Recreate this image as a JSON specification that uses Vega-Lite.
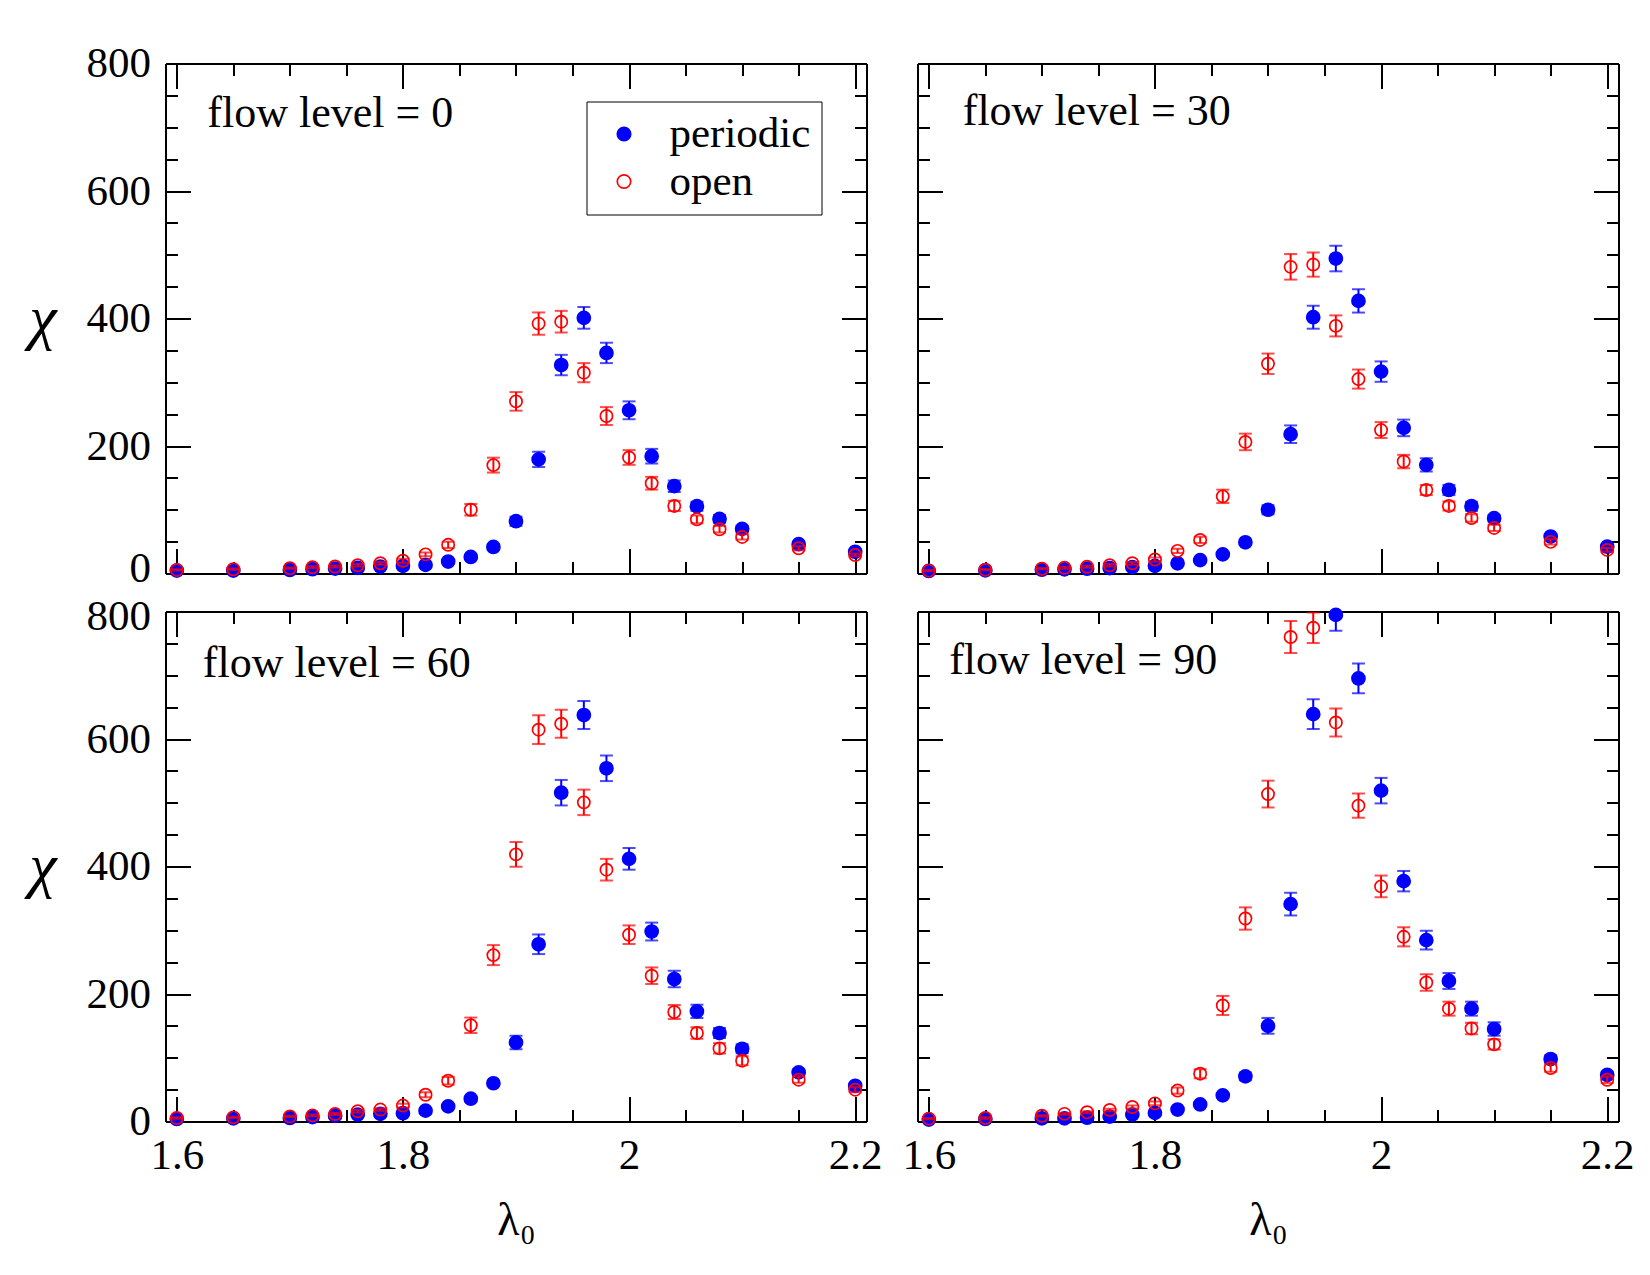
{
  "$schema": "https://vega.github.io/schema/vega-lite/v6.json",
  "background": "white",
  "padding": {"left": 28.5, "top": 42.5, "right": 5, "bottom": 5},
  "datasets": {
    "chi": [
      {"f":0,"s":"periodic","lam":1.6,"chi":4.6,"err":1},{"f":0,"s":"periodic","lam":1.65,"chi":4.6,"err":1},{"f":0,"s":"periodic","lam":1.7,"chi":5.6,"err":1},{"f":0,"s":"periodic","lam":1.72,"chi":6.7,"err":1},{"f":0,"s":"periodic","lam":1.74,"chi":7.7,"err":1},{"f":0,"s":"periodic","lam":1.76,"chi":8.8,"err":1},{"f":0,"s":"periodic","lam":1.78,"chi":10.9,"err":1.5},{"f":0,"s":"periodic","lam":1.8,"chi":12,"err":2},{"f":0,"s":"periodic","lam":1.82,"chi":13.5,"err":2},{"f":0,"s":"periodic","lam":1.84,"chi":18.7,"err":2},{"f":0,"s":"periodic","lam":1.86,"chi":26,"err":3},{"f":0,"s":"periodic","lam":1.88,"chi":41.7,"err":4},{"f":0,"s":"periodic","lam":1.9,"chi":82,"err":7},{"f":0,"s":"periodic","lam":1.92,"chi":179,"err":12},{"f":0,"s":"periodic","lam":1.94,"chi":327,"err":16},{"f":0,"s":"periodic","lam":1.96,"chi":401,"err":17},{"f":0,"s":"periodic","lam":1.98,"chi":346,"err":16},{"f":0,"s":"periodic","lam":2.0,"chi":256,"err":14},{"f":0,"s":"periodic","lam":2.02,"chi":184,"err":11.5},{"f":0,"s":"periodic","lam":2.04,"chi":137,"err":9},{"f":0,"s":"periodic","lam":2.06,"chi":105.5,"err":7},{"f":0,"s":"periodic","lam":2.08,"chi":85.6,"err":6},{"f":0,"s":"periodic","lam":2.1,"chi":70,"err":5},{"f":0,"s":"periodic","lam":2.15,"chi":46,"err":3},{"f":0,"s":"periodic","lam":2.2,"chi":34,"err":3},
      {"f":0,"s":"open","lam":1.6,"chi":5.6,"err":1},{"f":0,"s":"open","lam":1.65,"chi":6.7,"err":1},{"f":0,"s":"open","lam":1.7,"chi":8.3,"err":1},{"f":0,"s":"open","lam":1.72,"chi":9.8,"err":1.5},{"f":0,"s":"open","lam":1.74,"chi":10.9,"err":1.5},{"f":0,"s":"open","lam":1.76,"chi":13,"err":2},{"f":0,"s":"open","lam":1.78,"chi":16,"err":2},{"f":0,"s":"open","lam":1.8,"chi":20,"err":3},{"f":0,"s":"open","lam":1.82,"chi":30,"err":3},{"f":0,"s":"open","lam":1.84,"chi":45,"err":5},{"f":0,"s":"open","lam":1.86,"chi":100,"err":9},{"f":0,"s":"open","lam":1.88,"chi":170,"err":11.7},{"f":0,"s":"open","lam":1.9,"chi":270,"err":14.6},{"f":0,"s":"open","lam":1.92,"chi":392,"err":17.5},{"f":0,"s":"open","lam":1.94,"chi":395,"err":17},{"f":0,"s":"open","lam":1.96,"chi":315,"err":15},{"f":0,"s":"open","lam":1.98,"chi":247,"err":14},{"f":0,"s":"open","lam":2.0,"chi":182,"err":11.5},{"f":0,"s":"open","lam":2.02,"chi":141.6,"err":10},{"f":0,"s":"open","lam":2.04,"chi":106,"err":8},{"f":0,"s":"open","lam":2.06,"chi":85,"err":6},{"f":0,"s":"open","lam":2.08,"chi":69.5,"err":5},{"f":0,"s":"open","lam":2.1,"chi":57.4,"err":4},{"f":0,"s":"open","lam":2.15,"chi":39.6,"err":3},{"f":0,"s":"open","lam":2.2,"chi":29,"err":2},
      {"f":30,"s":"periodic","lam":1.6,"chi":4,"err":1},{"f":30,"s":"periodic","lam":1.65,"chi":5,"err":1},{"f":30,"s":"periodic","lam":1.7,"chi":6,"err":1},{"f":30,"s":"periodic","lam":1.72,"chi":6.5,"err":1},{"f":30,"s":"periodic","lam":1.74,"chi":7.5,"err":1},{"f":30,"s":"periodic","lam":1.76,"chi":8.5,"err":1},{"f":30,"s":"periodic","lam":1.78,"chi":10,"err":1.5},{"f":30,"s":"periodic","lam":1.8,"chi":12,"err":2},{"f":30,"s":"periodic","lam":1.82,"chi":16,"err":2},{"f":30,"s":"periodic","lam":1.84,"chi":21,"err":2},{"f":30,"s":"periodic","lam":1.86,"chi":30,"err":3},{"f":30,"s":"periodic","lam":1.88,"chi":49,"err":4},{"f":30,"s":"periodic","lam":1.9,"chi":100,"err":7},{"f":30,"s":"periodic","lam":1.92,"chi":218.5,"err":13.8},{"f":30,"s":"periodic","lam":1.94,"chi":402,"err":18},{"f":30,"s":"periodic","lam":1.96,"chi":494,"err":20},{"f":30,"s":"periodic","lam":1.98,"chi":427.6,"err":18.3},{"f":30,"s":"periodic","lam":2.0,"chi":316.7,"err":16},{"f":30,"s":"periodic","lam":2.02,"chi":228.4,"err":13},{"f":30,"s":"periodic","lam":2.04,"chi":170.4,"err":10.5},{"f":30,"s":"periodic","lam":2.06,"chi":131,"err":8},{"f":30,"s":"periodic","lam":2.08,"chi":105.5,"err":7},{"f":30,"s":"periodic","lam":2.1,"chi":86.7,"err":5},{"f":30,"s":"periodic","lam":2.15,"chi":58,"err":4},{"f":30,"s":"periodic","lam":2.2,"chi":42,"err":3},
      {"f":30,"s":"open","lam":1.6,"chi":4.5,"err":1},{"f":30,"s":"open","lam":1.65,"chi":6,"err":1},{"f":30,"s":"open","lam":1.7,"chi":7.5,"err":1},{"f":30,"s":"open","lam":1.72,"chi":9,"err":1.5},{"f":30,"s":"open","lam":1.74,"chi":10.5,"err":1.5},{"f":30,"s":"open","lam":1.76,"chi":13,"err":2},{"f":30,"s":"open","lam":1.78,"chi":16,"err":2},{"f":30,"s":"open","lam":1.8,"chi":22,"err":3},{"f":30,"s":"open","lam":1.82,"chi":35.5,"err":3.5},{"f":30,"s":"open","lam":1.84,"chi":52.7,"err":5},{"f":30,"s":"open","lam":1.86,"chi":121,"err":10.5},{"f":30,"s":"open","lam":1.88,"chi":206.4,"err":13},{"f":30,"s":"open","lam":1.9,"chi":329,"err":16},{"f":30,"s":"open","lam":1.92,"chi":481,"err":20},{"f":30,"s":"open","lam":1.94,"chi":484.6,"err":19},{"f":30,"s":"open","lam":1.96,"chi":388.4,"err":16.5},{"f":30,"s":"open","lam":1.98,"chi":305,"err":15},{"f":30,"s":"open","lam":2.0,"chi":225,"err":12.5},{"f":30,"s":"open","lam":2.02,"chi":175.6,"err":10.5},{"f":30,"s":"open","lam":2.04,"chi":131,"err":8},{"f":30,"s":"open","lam":2.06,"chi":106,"err":7},{"f":30,"s":"open","lam":2.08,"chi":87,"err":6},{"f":30,"s":"open","lam":2.1,"chi":71.5,"err":5},{"f":30,"s":"open","lam":2.15,"chi":49.6,"err":4},{"f":30,"s":"open","lam":2.2,"chi":37,"err":3},
      {"f":60,"s":"periodic","lam":1.6,"chi":4,"err":1},{"f":60,"s":"periodic","lam":1.65,"chi":5,"err":1},{"f":60,"s":"periodic","lam":1.7,"chi":5.5,"err":1},{"f":60,"s":"periodic","lam":1.72,"chi":7,"err":1},{"f":60,"s":"periodic","lam":1.74,"chi":9.2,"err":1},{"f":60,"s":"periodic","lam":1.76,"chi":10.8,"err":1},{"f":60,"s":"periodic","lam":1.78,"chi":12,"err":1.5},{"f":60,"s":"periodic","lam":1.8,"chi":13,"err":2},{"f":60,"s":"periodic","lam":1.82,"chi":17,"err":2},{"f":60,"s":"periodic","lam":1.84,"chi":23.7,"err":2.5},{"f":60,"s":"periodic","lam":1.86,"chi":35.8,"err":3},{"f":60,"s":"periodic","lam":1.88,"chi":60,"err":4},{"f":60,"s":"periodic","lam":1.9,"chi":124,"err":10.5},{"f":60,"s":"periodic","lam":1.92,"chi":278,"err":15.4},{"f":60,"s":"periodic","lam":1.94,"chi":515.8,"err":20},{"f":60,"s":"periodic","lam":1.96,"chi":637.6,"err":22},{"f":60,"s":"periodic","lam":1.98,"chi":554,"err":20},{"f":60,"s":"periodic","lam":2.0,"chi":412,"err":17},{"f":60,"s":"periodic","lam":2.02,"chi":298,"err":14},{"f":60,"s":"periodic","lam":2.04,"chi":223.5,"err":12.8},{"f":60,"s":"periodic","lam":2.06,"chi":172.7,"err":10.5},{"f":60,"s":"periodic","lam":2.08,"chi":138.8,"err":8},{"f":60,"s":"periodic","lam":2.1,"chi":114,"err":7},{"f":60,"s":"periodic","lam":2.15,"chi":77,"err":5},{"f":60,"s":"periodic","lam":2.2,"chi":56,"err":4},
      {"f":60,"s":"open","lam":1.6,"chi":5.5,"err":1},{"f":60,"s":"open","lam":1.65,"chi":6.5,"err":1},{"f":60,"s":"open","lam":1.7,"chi":8,"err":1},{"f":60,"s":"open","lam":1.72,"chi":9.6,"err":1.5},{"f":60,"s":"open","lam":1.74,"chi":11.7,"err":1.5},{"f":60,"s":"open","lam":1.76,"chi":16,"err":2},{"f":60,"s":"open","lam":1.78,"chi":18.7,"err":2},{"f":60,"s":"open","lam":1.8,"chi":25,"err":3},{"f":60,"s":"open","lam":1.82,"chi":42,"err":4},{"f":60,"s":"open","lam":1.84,"chi":64,"err":6},{"f":60,"s":"open","lam":1.86,"chi":151,"err":12},{"f":60,"s":"open","lam":1.88,"chi":261,"err":15.7},{"f":60,"s":"open","lam":1.9,"chi":419,"err":19.4},{"f":60,"s":"open","lam":1.92,"chi":614.6,"err":22.5},{"f":60,"s":"open","lam":1.94,"chi":624,"err":22},{"f":60,"s":"open","lam":1.96,"chi":500.6,"err":20},{"f":60,"s":"open","lam":1.98,"chi":395,"err":17},{"f":60,"s":"open","lam":2.0,"chi":293,"err":14.6},{"f":60,"s":"open","lam":2.02,"chi":228.7,"err":13},{"f":60,"s":"open","lam":2.04,"chi":171.7,"err":11},{"f":60,"s":"open","lam":2.06,"chi":138.8,"err":9},{"f":60,"s":"open","lam":2.08,"chi":114.7,"err":8},{"f":60,"s":"open","lam":2.1,"chi":95.4,"err":7},{"f":60,"s":"open","lam":2.15,"chi":65.6,"err":5},{"f":60,"s":"open","lam":2.2,"chi":49.9,"err":4},
      {"f":90,"s":"periodic","lam":1.6,"chi":3,"err":1},{"f":90,"s":"periodic","lam":1.65,"chi":4,"err":1},{"f":90,"s":"periodic","lam":1.7,"chi":4.9,"err":1},{"f":90,"s":"periodic","lam":1.72,"chi":4.9,"err":1},{"f":90,"s":"periodic","lam":1.74,"chi":6,"err":1},{"f":90,"s":"periodic","lam":1.76,"chi":7.7,"err":1},{"f":90,"s":"periodic","lam":1.78,"chi":10.8,"err":1.5},{"f":90,"s":"periodic","lam":1.8,"chi":13.5,"err":2},{"f":90,"s":"periodic","lam":1.82,"chi":18.8,"err":2},{"f":90,"s":"periodic","lam":1.84,"chi":26.8,"err":2.5},{"f":90,"s":"periodic","lam":1.86,"chi":41,"err":3},{"f":90,"s":"periodic","lam":1.88,"chi":70.8,"err":6},{"f":90,"s":"periodic","lam":1.9,"chi":150,"err":12.5},{"f":90,"s":"periodic","lam":1.92,"chi":341,"err":17.8},{"f":90,"s":"periodic","lam":1.94,"chi":639,"err":23.3},{"f":90,"s":"periodic","lam":1.96,"chi":794.7,"err":25},{"f":90,"s":"periodic","lam":1.98,"chi":695,"err":23.3},{"f":90,"s":"periodic","lam":2.0,"chi":519,"err":20},{"f":90,"s":"periodic","lam":2.02,"chi":377,"err":16},{"f":90,"s":"periodic","lam":2.04,"chi":284.5,"err":14.6},{"f":90,"s":"periodic","lam":2.06,"chi":220.4,"err":12.5},{"f":90,"s":"periodic","lam":2.08,"chi":177,"err":11},{"f":90,"s":"periodic","lam":2.1,"chi":145,"err":10.6},{"f":90,"s":"periodic","lam":2.15,"chi":98,"err":6},{"f":90,"s":"periodic","lam":2.2,"chi":73,"err":5},
      {"f":90,"s":"open","lam":1.6,"chi":4.5,"err":1},{"f":90,"s":"open","lam":1.65,"chi":5.5,"err":1},{"f":90,"s":"open","lam":1.7,"chi":9,"err":1},{"f":90,"s":"open","lam":1.72,"chi":12,"err":1.5},{"f":90,"s":"open","lam":1.74,"chi":14.5,"err":1.5},{"f":90,"s":"open","lam":1.76,"chi":18,"err":2},{"f":90,"s":"open","lam":1.78,"chi":22.7,"err":2.5},{"f":90,"s":"open","lam":1.8,"chi":28.4,"err":3},{"f":90,"s":"open","lam":1.82,"chi":48.5,"err":5},{"f":90,"s":"open","lam":1.84,"chi":75,"err":7},{"f":90,"s":"open","lam":1.86,"chi":182,"err":15},{"f":90,"s":"open","lam":1.88,"chi":318.4,"err":17.5},{"f":90,"s":"open","lam":1.9,"chi":513.6,"err":21},{"f":90,"s":"open","lam":1.92,"chi":760,"err":25},{"f":90,"s":"open","lam":1.94,"chi":774.5,"err":24},{"f":90,"s":"open","lam":1.96,"chi":626,"err":22},{"f":90,"s":"open","lam":1.98,"chi":495.5,"err":19},{"f":90,"s":"open","lam":2.0,"chi":368.8,"err":17},{"f":90,"s":"open","lam":2.02,"chi":289.7,"err":15},{"f":90,"s":"open","lam":2.04,"chi":218,"err":13},{"f":90,"s":"open","lam":2.06,"chi":177,"err":11},{"f":90,"s":"open","lam":2.08,"chi":146,"err":9},{"f":90,"s":"open","lam":2.1,"chi":121,"err":8},{"f":90,"s":"open","lam":2.15,"chi":84,"err":6},{"f":90,"s":"open","lam":2.2,"chi":65.5,"err":5}
    ]
  },
  "columns": 2,
  "spacing": {"row": 38, "column": 51},
  "bounds": "flush",
  "resolve": {
    "scale": {"x": "independent", "y": "independent", "fill": "independent", "stroke": "independent"},
    "axis": {"x": "independent", "y": "independent"},
    "legend": {"fill": "independent", "stroke": "independent"}
  },
  "concat": [
    {
      "width": 701, "height": 510,
      "data": {"name": "chi"},
      "resolve": {"axis": {"x": "independent", "y": "independent"}},
      "layer": [
        {
          "transform": [{"filter": "datum.f == 0 && datum.s == 'periodic'"}],
          "mark": {"type": "errorbar", "color": "#0000ff", "clip": true, "ticks": {"size": 13, "thickness": 2}, "rule": {"strokeWidth": 2}},
          "encoding": {
            "x": {"field": "lam", "type": "quantitative", "scale": {"domain": [1.59, 2.21], "nice": false, "zero": false},
                  "axis": {"orient": "bottom", "values": [1.6, 1.8, 2.0, 2.2], "tickSize": -25, "labels": false, "title": null}},
            "y": {"field": "chi", "type": "quantitative", "scale": {"domain": [0, 800], "nice": false},
                  "axis": {"orient": "left", "values": [0, 200, 400, 600, 800], "tickSize": -25, "labelPadding": 40,
                           "labelOffset": {"condition": {"test": "datum.value == 0", "value": -5}, "value": 0},
                           "title": "χ", "titleAngle": 0, "titleFontSize": 62, "titleFontStyle": "italic", "titleAlign": "right", "titleBaseline": "middle", "titlePadding": 30}},
            "yError": {"field": "err"}
          }
        },
        {
          "transform": [{"filter": "datum.f == 0 && datum.s == 'periodic'"}],
          "mark": {"type": "point", "shape": "circle", "size": 170, "strokeWidth": 1.7, "fillOpacity": 1, "strokeOpacity": 1},
          "encoding": {
            "x": {"field": "lam", "type": "quantitative", "axis": {"orient": "bottom", "values": [1.6, 1.65, 1.7, 1.75, 1.8, 1.85, 1.9, 1.95, 2.0, 2.05, 2.1, 2.15, 2.2], "tickSize": -12, "labels": false, "title": null}},
            "y": {"field": "chi", "type": "quantitative", "axis": {"orient": "left", "values": [0, 50, 100, 150, 200, 250, 300, 350, 400, 450, 500, 550, 600, 650, 700, 750, 800], "tickSize": -12, "labels": false, "title": null}},
            "fill": {"field": "s", "type": "nominal", "scale": {"domain": ["periodic", "open"], "range": ["#0000ff", "transparent"]},
                     "legend": {"orient": "none", "legendX": 421, "legendY": 38, "title": null, "padding": 11, "symbolOffset": 5, "labelOffset": 24, "rowPadding": 3.5, "symbolType": "circle", "symbolSize": 180, "symbolStrokeWidth": 1.7, "labelFontSize": 43, "labelFont": "Liberation Serif", "labelColor": "black", "labelLimit": 400, "strokeColor": "black"}},
            "stroke": {"field": "s", "type": "nominal", "scale": {"domain": ["periodic", "open"], "range": ["#0000ff", "#ff0000"]},
                     "legend": {"orient": "none", "legendX": 421, "legendY": 38, "title": null, "padding": 11, "symbolOffset": 5, "labelOffset": 24, "rowPadding": 3.5, "symbolType": "circle", "symbolSize": 180, "symbolStrokeWidth": 1.7, "labelFontSize": 43, "labelFont": "Liberation Serif", "labelColor": "black", "labelLimit": 400, "strokeColor": "black"}}
          }
        },
        {
          "transform": [{"filter": "datum.f == 0 && datum.s == 'open'"}],
          "mark": {"type": "errorbar", "color": "#ff0000", "clip": true, "ticks": {"size": 13, "thickness": 2}, "rule": {"strokeWidth": 2}},
          "encoding": {
            "x": {"field": "lam", "type": "quantitative", "axis": {"orient": "top", "values": [1.6, 1.8, 2.0, 2.2], "tickSize": -25, "labels": false, "title": null}},
            "y": {"field": "chi", "type": "quantitative", "axis": {"orient": "right", "values": [0, 200, 400, 600, 800], "tickSize": -25, "labels": false, "title": null}},
            "yError": {"field": "err"}
          }
        },
        {
          "transform": [{"filter": "datum.f == 0 && datum.s == 'open'"}],
          "mark": {"type": "point", "shape": "circle", "size": 150, "strokeWidth": 1.7, "fillOpacity": 1, "strokeOpacity": 1},
          "encoding": {
            "x": {"field": "lam", "type": "quantitative", "axis": {"orient": "top", "values": [1.6, 1.65, 1.7, 1.75, 1.8, 1.85, 1.9, 1.95, 2.0, 2.05, 2.1, 2.15, 2.2], "tickSize": -12, "labels": false, "title": null}},
            "y": {"field": "chi", "type": "quantitative", "axis": {"orient": "right", "values": [0, 50, 100, 150, 200, 250, 300, 350, 400, 450, 500, 550, 600, 650, 700, 750, 800], "tickSize": -12, "labels": false, "title": null}},
            "fill": {"field": "s", "type": "nominal", "scale": {"domain": ["periodic", "open"], "range": ["#0000ff", "transparent"]},
                     "legend": {"orient": "none", "legendX": 421, "legendY": 38, "title": null, "padding": 11, "symbolOffset": 5, "labelOffset": 24, "rowPadding": 3.5, "symbolType": "circle", "symbolSize": 180, "symbolStrokeWidth": 1.7, "labelFontSize": 43, "labelFont": "Liberation Serif", "labelColor": "black", "labelLimit": 400, "strokeColor": "black"}},
            "stroke": {"field": "s", "type": "nominal", "scale": {"domain": ["periodic", "open"], "range": ["#0000ff", "#ff0000"]},
                     "legend": {"orient": "none", "legendX": 421, "legendY": 38, "title": null, "padding": 11, "symbolOffset": 5, "labelOffset": 24, "rowPadding": 3.5, "symbolType": "circle", "symbolSize": 180, "symbolStrokeWidth": 1.7, "labelFontSize": 43, "labelFont": "Liberation Serif", "labelColor": "black", "labelLimit": 400, "strokeColor": "black"}}
          }
        },
        {
          "data": {"values": [{}]},
          "mark": {"type": "text", "text": "flow level = 0", "align": "left", "baseline": "alphabetic", "fontSize": 44, "font": "Liberation Serif", "color": "black"},
          "encoding": {
            "x": {"datum": 1.627, "type": "quantitative", "axis": null},
            "y": {"datum": 700, "type": "quantitative", "axis": null}
          }
        }
      ]
    },
    {
      "width": 701, "height": 510,
      "data": {"name": "chi"},
      "resolve": {"axis": {"x": "independent", "y": "independent"}},
      "layer": [
        {
          "transform": [{"filter": "datum.f == 30 && datum.s == 'periodic'"}],
          "mark": {"type": "errorbar", "color": "#0000ff", "clip": true, "ticks": {"size": 13, "thickness": 2}, "rule": {"strokeWidth": 2}},
          "encoding": {
            "x": {"field": "lam", "type": "quantitative", "scale": {"domain": [1.59, 2.21], "nice": false, "zero": false},
                  "axis": {"orient": "bottom", "values": [1.6, 1.8, 2.0, 2.2], "tickSize": -25, "labels": false, "title": null}},
            "y": {"field": "chi", "type": "quantitative", "scale": {"domain": [0, 800], "nice": false},
                  "axis": {"orient": "left", "values": [0, 200, 400, 600, 800], "tickSize": -25, "labels": false, "title": null}},
            "yError": {"field": "err"}
          }
        },
        {
          "transform": [{"filter": "datum.f == 30 && datum.s == 'periodic'"}],
          "mark": {"type": "point", "shape": "circle", "size": 170, "strokeWidth": 1.7, "fillOpacity": 1, "strokeOpacity": 1},
          "encoding": {
            "x": {"field": "lam", "type": "quantitative", "axis": {"orient": "bottom", "values": [1.6, 1.65, 1.7, 1.75, 1.8, 1.85, 1.9, 1.95, 2.0, 2.05, 2.1, 2.15, 2.2], "tickSize": -12, "labels": false, "title": null}},
            "y": {"field": "chi", "type": "quantitative", "axis": {"orient": "left", "values": [0, 50, 100, 150, 200, 250, 300, 350, 400, 450, 500, 550, 600, 650, 700, 750, 800], "tickSize": -12, "labels": false, "title": null}},
            "fill": {"field": "s", "type": "nominal", "scale": {"domain": ["periodic", "open"], "range": ["#0000ff", "transparent"]}, "legend": null},
            "stroke": {"field": "s", "type": "nominal", "scale": {"domain": ["periodic", "open"], "range": ["#0000ff", "#ff0000"]}, "legend": null}
          }
        },
        {
          "transform": [{"filter": "datum.f == 30 && datum.s == 'open'"}],
          "mark": {"type": "errorbar", "color": "#ff0000", "clip": true, "ticks": {"size": 13, "thickness": 2}, "rule": {"strokeWidth": 2}},
          "encoding": {
            "x": {"field": "lam", "type": "quantitative", "axis": {"orient": "top", "values": [1.6, 1.8, 2.0, 2.2], "tickSize": -25, "labels": false, "title": null}},
            "y": {"field": "chi", "type": "quantitative", "axis": {"orient": "right", "values": [0, 200, 400, 600, 800], "tickSize": -25, "labels": false, "title": null}},
            "yError": {"field": "err"}
          }
        },
        {
          "transform": [{"filter": "datum.f == 30 && datum.s == 'open'"}],
          "mark": {"type": "point", "shape": "circle", "size": 150, "strokeWidth": 1.7, "fillOpacity": 1, "strokeOpacity": 1},
          "encoding": {
            "x": {"field": "lam", "type": "quantitative", "axis": {"orient": "top", "values": [1.6, 1.65, 1.7, 1.75, 1.8, 1.85, 1.9, 1.95, 2.0, 2.05, 2.1, 2.15, 2.2], "tickSize": -12, "labels": false, "title": null}},
            "y": {"field": "chi", "type": "quantitative", "axis": {"orient": "right", "values": [0, 50, 100, 150, 200, 250, 300, 350, 400, 450, 500, 550, 600, 650, 700, 750, 800], "tickSize": -12, "labels": false, "title": null}},
            "fill": {"field": "s", "type": "nominal", "scale": {"domain": ["periodic", "open"], "range": ["#0000ff", "transparent"]}, "legend": null},
            "stroke": {"field": "s", "type": "nominal", "scale": {"domain": ["periodic", "open"], "range": ["#0000ff", "#ff0000"]}, "legend": null}
          }
        },
        {
          "data": {"values": [{}]},
          "mark": {"type": "text", "text": "flow level = 30", "align": "left", "baseline": "alphabetic", "fontSize": 44, "font": "Liberation Serif", "color": "black"},
          "encoding": {
            "x": {"datum": 1.63, "type": "quantitative", "axis": null},
            "y": {"datum": 704, "type": "quantitative", "axis": null}
          }
        }
      ]
    },
    {
      "width": 701, "height": 510,
      "data": {"name": "chi"},
      "resolve": {"axis": {"x": "independent", "y": "independent"}},
      "layer": [
        {
          "transform": [{"filter": "datum.f == 60 && datum.s == 'periodic'"}],
          "mark": {"type": "errorbar", "color": "#0000ff", "clip": true, "ticks": {"size": 13, "thickness": 2}, "rule": {"strokeWidth": 2}},
          "encoding": {
            "x": {"field": "lam", "type": "quantitative", "scale": {"domain": [1.59, 2.21], "nice": false, "zero": false},
                  "axis": {"orient": "bottom", "values": [1.6, 1.8, 2.0, 2.2], "tickSize": -25, "format": "~g", "labelPadding": 38, "title": "λ₀", "titleFontSize": 46, "titlePadding": 21}},
            "y": {"field": "chi", "type": "quantitative", "scale": {"domain": [0, 800], "nice": false},
                  "axis": {"orient": "left", "values": [0, 200, 400, 600, 800], "tickSize": -25, "labelPadding": 40,
                           "labelOffset": {"condition": {"test": "datum.value == 800", "value": 5}, "value": 0},
                           "title": "χ", "titleAngle": 0, "titleFontSize": 62, "titleFontStyle": "italic", "titleAlign": "right", "titleBaseline": "middle", "titlePadding": 30}},
            "yError": {"field": "err"}
          }
        },
        {
          "transform": [{"filter": "datum.f == 60 && datum.s == 'periodic'"}],
          "mark": {"type": "point", "shape": "circle", "size": 170, "strokeWidth": 1.7, "fillOpacity": 1, "strokeOpacity": 1},
          "encoding": {
            "x": {"field": "lam", "type": "quantitative", "axis": {"orient": "bottom", "values": [1.6, 1.65, 1.7, 1.75, 1.8, 1.85, 1.9, 1.95, 2.0, 2.05, 2.1, 2.15, 2.2], "tickSize": -12, "labels": false, "title": null}},
            "y": {"field": "chi", "type": "quantitative", "axis": {"orient": "left", "values": [0, 50, 100, 150, 200, 250, 300, 350, 400, 450, 500, 550, 600, 650, 700, 750, 800], "tickSize": -12, "labels": false, "title": null}},
            "fill": {"field": "s", "type": "nominal", "scale": {"domain": ["periodic", "open"], "range": ["#0000ff", "transparent"]}, "legend": null},
            "stroke": {"field": "s", "type": "nominal", "scale": {"domain": ["periodic", "open"], "range": ["#0000ff", "#ff0000"]}, "legend": null}
          }
        },
        {
          "transform": [{"filter": "datum.f == 60 && datum.s == 'open'"}],
          "mark": {"type": "errorbar", "color": "#ff0000", "clip": true, "ticks": {"size": 13, "thickness": 2}, "rule": {"strokeWidth": 2}},
          "encoding": {
            "x": {"field": "lam", "type": "quantitative", "axis": {"orient": "top", "values": [1.6, 1.8, 2.0, 2.2], "tickSize": -25, "labels": false, "title": null}},
            "y": {"field": "chi", "type": "quantitative", "axis": {"orient": "right", "values": [0, 200, 400, 600, 800], "tickSize": -25, "labels": false, "title": null}},
            "yError": {"field": "err"}
          }
        },
        {
          "transform": [{"filter": "datum.f == 60 && datum.s == 'open'"}],
          "mark": {"type": "point", "shape": "circle", "size": 150, "strokeWidth": 1.7, "fillOpacity": 1, "strokeOpacity": 1},
          "encoding": {
            "x": {"field": "lam", "type": "quantitative", "axis": {"orient": "top", "values": [1.6, 1.65, 1.7, 1.75, 1.8, 1.85, 1.9, 1.95, 2.0, 2.05, 2.1, 2.15, 2.2], "tickSize": -12, "labels": false, "title": null}},
            "y": {"field": "chi", "type": "quantitative", "axis": {"orient": "right", "values": [0, 50, 100, 150, 200, 250, 300, 350, 400, 450, 500, 550, 600, 650, 700, 750, 800], "tickSize": -12, "labels": false, "title": null}},
            "fill": {"field": "s", "type": "nominal", "scale": {"domain": ["periodic", "open"], "range": ["#0000ff", "transparent"]}, "legend": null},
            "stroke": {"field": "s", "type": "nominal", "scale": {"domain": ["periodic", "open"], "range": ["#0000ff", "#ff0000"]}, "legend": null}
          }
        },
        {
          "data": {"values": [{}]},
          "mark": {"type": "text", "text": "flow level = 60", "align": "left", "baseline": "alphabetic", "fontSize": 44, "font": "Liberation Serif", "color": "black"},
          "encoding": {
            "x": {"datum": 1.623, "type": "quantitative", "axis": null},
            "y": {"datum": 698, "type": "quantitative", "axis": null}
          }
        }
      ]
    },
    {
      "width": 701, "height": 510,
      "data": {"name": "chi"},
      "resolve": {"axis": {"x": "independent", "y": "independent"}},
      "layer": [
        {
          "transform": [{"filter": "datum.f == 90 && datum.s == 'periodic'"}],
          "mark": {"type": "errorbar", "color": "#0000ff", "clip": true, "ticks": {"size": 13, "thickness": 2}, "rule": {"strokeWidth": 2}},
          "encoding": {
            "x": {"field": "lam", "type": "quantitative", "scale": {"domain": [1.59, 2.21], "nice": false, "zero": false},
                  "axis": {"orient": "bottom", "values": [1.6, 1.8, 2.0, 2.2], "tickSize": -25, "format": "~g", "labelPadding": 38, "title": "λ₀", "titleFontSize": 46, "titlePadding": 21}},
            "y": {"field": "chi", "type": "quantitative", "scale": {"domain": [0, 800], "nice": false},
                  "axis": {"orient": "left", "values": [0, 200, 400, 600, 800], "tickSize": -25, "labels": false, "title": null}},
            "yError": {"field": "err"}
          }
        },
        {
          "transform": [{"filter": "datum.f == 90 && datum.s == 'periodic'"}],
          "mark": {"type": "point", "shape": "circle", "size": 170, "strokeWidth": 1.7, "fillOpacity": 1, "strokeOpacity": 1},
          "encoding": {
            "x": {"field": "lam", "type": "quantitative", "axis": {"orient": "bottom", "values": [1.6, 1.65, 1.7, 1.75, 1.8, 1.85, 1.9, 1.95, 2.0, 2.05, 2.1, 2.15, 2.2], "tickSize": -12, "labels": false, "title": null}},
            "y": {"field": "chi", "type": "quantitative", "axis": {"orient": "left", "values": [0, 50, 100, 150, 200, 250, 300, 350, 400, 450, 500, 550, 600, 650, 700, 750, 800], "tickSize": -12, "labels": false, "title": null}},
            "fill": {"field": "s", "type": "nominal", "scale": {"domain": ["periodic", "open"], "range": ["#0000ff", "transparent"]}, "legend": null},
            "stroke": {"field": "s", "type": "nominal", "scale": {"domain": ["periodic", "open"], "range": ["#0000ff", "#ff0000"]}, "legend": null}
          }
        },
        {
          "transform": [{"filter": "datum.f == 90 && datum.s == 'open'"}],
          "mark": {"type": "errorbar", "color": "#ff0000", "clip": true, "ticks": {"size": 13, "thickness": 2}, "rule": {"strokeWidth": 2}},
          "encoding": {
            "x": {"field": "lam", "type": "quantitative", "axis": {"orient": "top", "values": [1.6, 1.8, 2.0, 2.2], "tickSize": -25, "labels": false, "title": null}},
            "y": {"field": "chi", "type": "quantitative", "axis": {"orient": "right", "values": [0, 200, 400, 600, 800], "tickSize": -25, "labels": false, "title": null}},
            "yError": {"field": "err"}
          }
        },
        {
          "transform": [{"filter": "datum.f == 90 && datum.s == 'open'"}],
          "mark": {"type": "point", "shape": "circle", "size": 150, "strokeWidth": 1.7, "fillOpacity": 1, "strokeOpacity": 1},
          "encoding": {
            "x": {"field": "lam", "type": "quantitative", "axis": {"orient": "top", "values": [1.6, 1.65, 1.7, 1.75, 1.8, 1.85, 1.9, 1.95, 2.0, 2.05, 2.1, 2.15, 2.2], "tickSize": -12, "labels": false, "title": null}},
            "y": {"field": "chi", "type": "quantitative", "axis": {"orient": "right", "values": [0, 50, 100, 150, 200, 250, 300, 350, 400, 450, 500, 550, 600, 650, 700, 750, 800], "tickSize": -12, "labels": false, "title": null}},
            "fill": {"field": "s", "type": "nominal", "scale": {"domain": ["periodic", "open"], "range": ["#0000ff", "transparent"]}, "legend": null},
            "stroke": {"field": "s", "type": "nominal", "scale": {"domain": ["periodic", "open"], "range": ["#0000ff", "#ff0000"]}, "legend": null}
          }
        },
        {
          "data": {"values": [{}]},
          "mark": {"type": "text", "text": "flow level = 90", "align": "left", "baseline": "alphabetic", "fontSize": 44, "font": "Liberation Serif", "color": "black"},
          "encoding": {
            "x": {"datum": 1.618, "type": "quantitative", "axis": null},
            "y": {"datum": 702, "type": "quantitative", "axis": null}
          }
        }
      ]
    }
  ],
  "config": {
    "font": "Liberation Serif",
    "view": {"stroke": null},
    "axis": {
      "domainColor": "black", "domainWidth": 2, "tickColor": "black", "tickWidth": 2, "grid": false,
      "labelFont": "Liberation Serif", "labelFontSize": 43, "labelColor": "black",
      "titleFont": "Liberation Serif", "titleFontWeight": "normal", "titleColor": "black",
      "labelFlush": false, "labelOverlap": false, "labelBound": false, "zindex": 1
    }
  }
}
